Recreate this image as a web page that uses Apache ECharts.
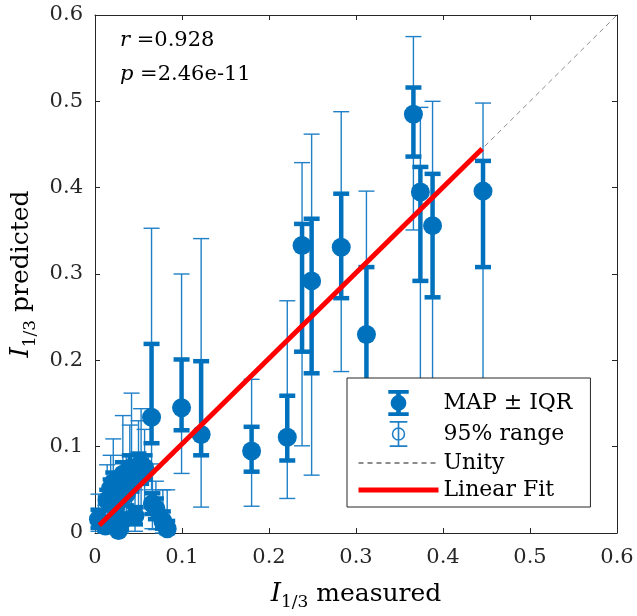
<!DOCTYPE html>
<html>
<head>
<meta charset="utf-8">
<script src="https://cdn.jsdelivr.net/npm/echarts@6/dist/echarts.min.js"></script>
<style>
html,body{margin:0;padding:0;background:#fff;}
#chart{width:637px;height:616px;}
</style>
</head>
<body>
<div id="chart"></div>
<script>
// ---- data ----
const measured  = [0.004,0.012,0.014,0.018,0.021,0.024,0.027,0.030,0.032,0.036,0.040,0.042,0.046,0.050,0.053,0.057,0.066,0.070,0.078,0.083,
                   0.065,0.0995,0.122,0.180,0.221,0.238,0.249,0.283,0.312,0.366,0.374,0.388,0.446];
const mapPred   = [0.016,0.008,0.038,0.052,0.058,0.030,0.003,0.012,0.068,0.045,0.075,0.062,0.020,0.078,0.070,0.076,0.034,0.028,0.014,0.005,
                   0.134,0.145,0.114,0.095,0.111,0.333,0.292,0.331,0.230,0.485,0.395,0.356,0.396];
const iqrLow    = [0.006,0.002,0.026,0.040,0.045,0.018,0.000,0.004,0.055,0.032,0.060,0.048,0.010,0.062,0.057,0.062,0.022,0.016,0.005,0.000,
                   0.104,0.119,0.090,0.071,0.084,0.210,0.185,0.272,0.150,0.436,0.292,0.273,0.308];
const iqrHigh   = [0.027,0.018,0.050,0.062,0.070,0.042,0.010,0.022,0.082,0.058,0.090,0.078,0.030,0.092,0.085,0.090,0.046,0.040,0.025,0.014,
                   0.219,0.201,0.199,0.123,0.159,0.358,0.364,0.393,0.308,0.516,0.424,0.416,0.431];
const rangeLow  = [0.002,0.000,0.008,0.015,0.012,0.004,0.000,0.000,0.020,0.010,0.025,0.018,0.002,0.030,0.022,0.028,0.005,0.004,0.000,0.000,
                   0.050,0.069,0.030,0.031,0.040,0.101,0.067,0.187,0.070,0.351,0.150,0.120,0.100];
const rangeHigh = [0.045,0.032,0.079,0.090,0.109,0.065,0.020,0.040,0.136,0.090,0.125,0.162,0.050,0.130,0.144,0.120,0.080,0.060,0.050,0.050,
                   0.353,0.300,0.341,0.178,0.269,0.429,0.462,0.488,0.396,0.575,0.493,0.500,0.498];
const fitX   = [0.005, 0.445];
const fitY   = [0.009, 0.445];
const unityX = [0, 0.6];
const unityY = [0, 0.6];
const statLines = ['r', '=0.928', 'p', '=2.46e-11'];
const legendNames = ['MAP ± IQR', '95% range', 'Unity', 'Linear Fit'];

// ---- chart ----
const FONT = 'DejaVu Serif';
const AX = '#262626';
const BLUE = '#0072BD';
const THIN = '#1f80c8';

const chart = echarts.init(document.getElementById('chart'), null, {renderer: 'canvas'});

function errRender(lineW, capW, color) {
  return function (params, api) {
    const x = api.value(0), lo = api.value(1), hi = api.value(2);
    const pLo = api.coord([x, lo]);
    const pHi = api.coord([x, hi]);
    const st = {stroke: color, lineWidth: lineW};
    return {
      type: 'group',
      children: [
        {type: 'line', shape: {x1: pLo[0], y1: pLo[1], x2: pHi[0], y2: pHi[1]}, style: st},
        {type: 'line', shape: {x1: pLo[0] - capW / 2, y1: pLo[1], x2: pLo[0] + capW / 2, y2: pLo[1]}, style: st},
        {type: 'line', shape: {x1: pHi[0] - capW / 2, y1: pHi[1], x2: pHi[0] + capW / 2, y2: pHi[1]}, style: st}
      ]
    };
  };
}

const iconMap = 'path://M0 0H22V4H13.5V24H22V28H0V24H8.5V4H0Z M2.5 14A8.5 8.5 0 1 1 19.5 14A8.5 8.5 0 1 1 2.5 14Z';
const iconRange = 'path://M0 0H17V1.6H0Z M0 23.4H17V25H0Z M7.7 0H9.3V25H7.7Z M2 12.5A6.5 6.5 0 1 1 15 12.5A6.5 6.5 0 1 1 2 12.5Z M3.5 12.5A5 5 0 1 0 13.5 12.5A5 5 0 1 0 3.5 12.5Z';

const tickFmt = v => (Math.round(v * 10) / 10).toString();

const axisCommon = {
  type: 'value', min: 0, max: 0.6, interval: 0.1,
  axisLine: {show: true, onZero: false, lineStyle: {color: AX, width: 1}},
  axisTick: {show: true, inside: true, length: 5, lineStyle: {color: AX, width: 1}},
  splitLine: {show: false}
};

const nameRich = {
  i: {fontFamily: FONT, fontStyle: 'italic', fontSize: 26, color: '#000', lineHeight: 34, verticalAlign: 'middle'},
  s: {fontFamily: FONT, fontSize: 17, color: '#000', lineHeight: 18, verticalAlign: 'bottom'},
  t: {fontFamily: FONT, fontSize: 25, color: '#000', lineHeight: 34, verticalAlign: 'middle'}
};

const option = {
  animation: false,
  backgroundColor: '#fff',
  grid: {left: 95, right: 20, top: 15, bottom: 80},
  xAxis: [
    Object.assign({}, axisCommon, {
      position: 'bottom',
      axisLabel: {fontFamily: FONT, fontSize: 21, color: AX, margin: 14, formatter: tickFmt},
      name: '{i|I}{s|1/3}{t| measured}', nameLocation: 'middle', nameGap: 44,
      nameTextStyle: {rich: nameRich}
    }),
    Object.assign({}, axisCommon, {position: 'top', axisLabel: {show: false}})
  ],
  yAxis: [
    Object.assign({}, axisCommon, {
      position: 'left',
      axisLabel: {fontFamily: FONT, fontSize: 21, color: AX, margin: 12, formatter: tickFmt},
      name: '{i|I}{s|1/3}{t| predicted}', nameLocation: 'middle', nameGap: 50, nameRotate: 90,
      nameTextStyle: {rich: nameRich}
    }),
    Object.assign({}, axisCommon, {position: 'right', axisLabel: {show: false}})
  ],
  legend: {
    orient: 'vertical', left: 347, top: 378,
    padding: [12, 18, 6, 9],
    itemWidth: 80, itemHeight: 26, itemGap: 5,
    borderColor: AX, borderWidth: 1, backgroundColor: '#fff',
    textStyle: {fontFamily: FONT, fontSize: 22, color: '#000'},
    selectedMode: false,
    data: [
      {name: legendNames[0], icon: iconMap, itemStyle: {color: BLUE}},
      {name: legendNames[1], icon: iconRange, itemStyle: {color: THIN}},
      {name: legendNames[2], itemStyle: {opacity: 0}},
      {name: legendNames[3], itemStyle: {opacity: 0}, lineStyle: {width: 5}}
    ]
  },
  graphic: [
    {type: 'text', left: 120, top: 30, z: 10,
      style: {text: '{i|' + statLines[0] + '} ' + statLines[1], fill: '#000', font: '21px "DejaVu Serif"',
        rich: {i: {fontStyle: 'italic', fontFamily: FONT, fontSize: 21}}}},
    {type: 'text', left: 120, top: 64, z: 10,
      style: {text: '{i|' + statLines[2] + '} ' + statLines[3], fill: '#000', font: '21px "DejaVu Serif"',
        rich: {i: {fontStyle: 'italic', fontFamily: FONT, fontSize: 21}}}}
  ],
  series: [
    {
      name: legendNames[2], type: 'line', z: 1, symbol: 'none', silent: true,
      data: unityX.map((x, i) => [x, unityY[i]]),
      lineStyle: {color: '#8c8c8c', width: 1, type: [5, 4]},
      itemStyle: {color: '#8c8c8c'}
    },
    {
      name: legendNames[1], type: 'custom', z: 2, silent: true,
      itemStyle: {color: THIN},
      encode: {x: 0, y: [1, 2]},
      data: measured.map((x, i) => [x, rangeLow[i], rangeHigh[i]]),
      renderItem: errRender(1.4, 16, THIN)
    },
    {
      name: 'IQR', type: 'custom', z: 3, silent: true,
      itemStyle: {color: BLUE},
      encode: {x: 0, y: [1, 2]},
      data: measured.map((x, i) => [x, iqrLow[i], iqrHigh[i]]),
      renderItem: errRender(4.5, 16, BLUE)
    },
    {
      name: legendNames[0], type: 'scatter', z: 4, silent: true,
      symbol: 'circle', symbolSize: 19,
      itemStyle: {color: BLUE, opacity: 1},
      data: measured.map((x, i) => [x, mapPred[i]])
    },
    {
      name: legendNames[3], type: 'line', z: 5, symbol: 'none', silent: true,
      data: fitX.map((x, i) => [x, fitY[i]]),
      lineStyle: {color: '#FF0000', width: 5},
      itemStyle: {color: '#FF0000'}
    }
  ]
};
chart.setOption(option);
</script>
</body>
</html>
